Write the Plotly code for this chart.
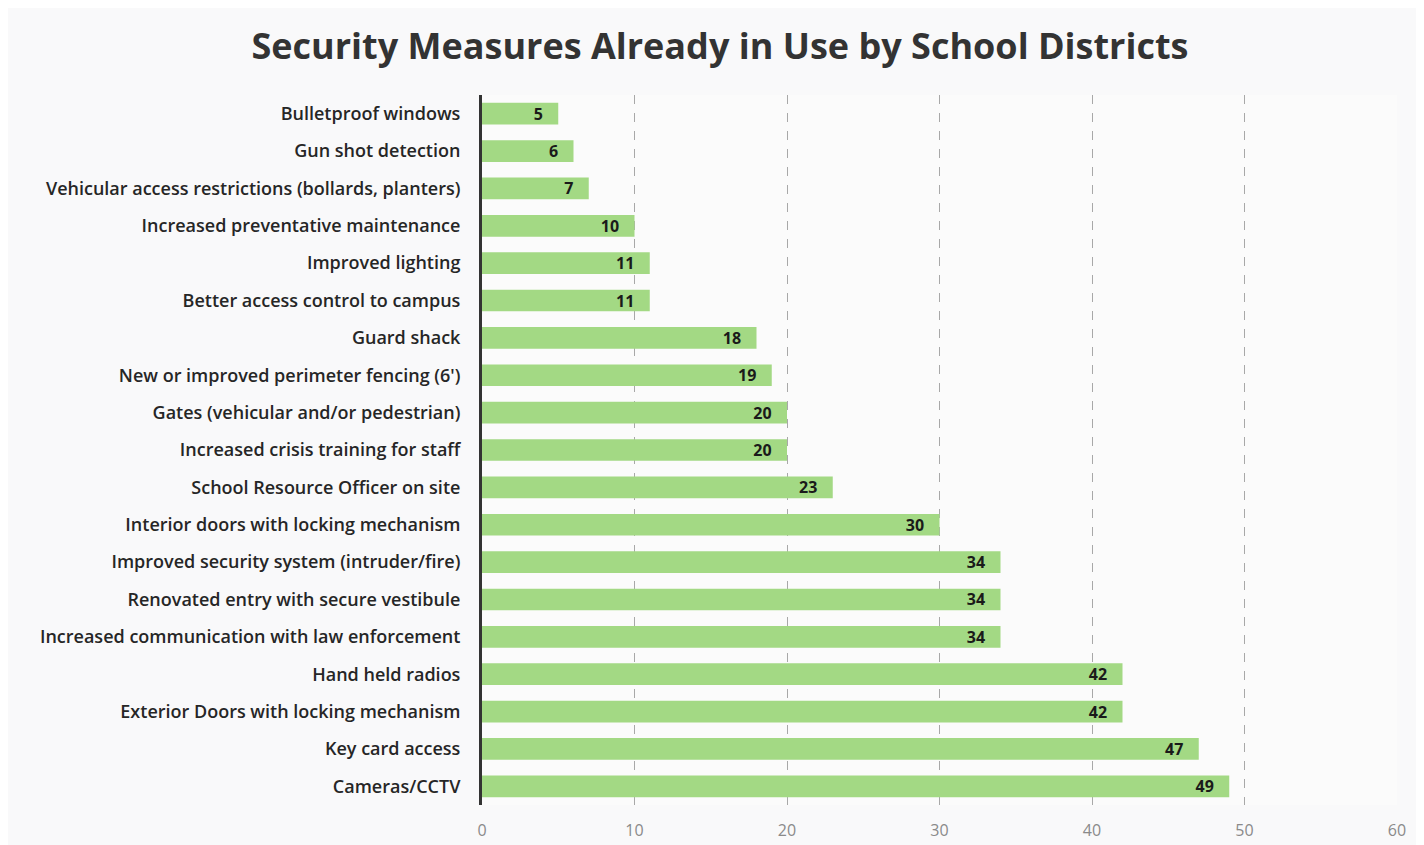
import plotly.graph_objects as go

categories = [
    "Bulletproof windows",
    "Gun shot detection",
    "Vehicular access restrictions (bollards, planters)",
    "Increased preventative maintenance",
    "Improved lighting",
    "Better access control to campus",
    "Guard shack",
    "New or improved perimeter fencing (6')",
    "Gates (vehicular and/or pedestrian)",
    "Increased crisis training for staff",
    "School Resource Officer on site",
    "Interior doors with locking mechanism",
    "Improved security system (intruder/fire)",
    "Renovated entry with secure vestibule",
    "Increased communication with law enforcement",
    "Hand held radios",
    "Exterior Doors with locking mechanism",
    "Key card access",
    "Cameras/CCTV",
]
values = [5, 6, 7, 10, 11, 11, 18, 19, 20, 20, 23, 30, 34, 34, 34, 42, 42, 47, 49]
x_ticks = [0, 10, 20, 30, 40, 50, 60]

fig = go.Figure(
    go.Bar(
        y=categories,
        x=values,
        orientation="h",
        marker=dict(color="#a3d984", line=dict(width=0)),
        text=[str(v) + "\u00a0\u00a0\u00a0" for v in values],
        textposition="inside",
        textangle=0,
        insidetextanchor="end",
        textfont=dict(family="Open Sans", size=16, color="#1a1a1a", weight="bold"),
        cliponaxis=False,
    )
)

fig.update_layout(
    width=1424,
    height=845,
    paper_bgcolor="#f9f9fa",
    plot_bgcolor="#fbfbfb",
    margin=dict(l=474, r=35, t=87, b=48),
    bargap=0.42,
    showlegend=False,
    uniformtext=dict(minsize=16, mode="show"),
    title=dict(
        text="<b>Security Measures Already in Use by School Districts</b>",
        x=0.5,
        xanchor="center",
        y=0.955,
        yanchor="middle",
        font=dict(family="Open Sans", size=36, color="#333333"),
    ),
)

fig.update_xaxes(
    range=[0, 60],
    tickvals=x_ticks,
    showgrid=True,
    gridcolor="#a8a8a8",
    griddash="dash",
    gridwidth=1,
    zeroline=False,
    showline=False,
    ticklabelstandoff=14,
    tickfont=dict(family="Open Sans", size=16, color="#8a8a8a"),
)
fig.update_yaxes(
    categoryorder="array",
    categoryarray=categories,
    autorange="reversed",
    showgrid=False,
    showline=True,
    linecolor="#333333",
    linewidth=3,
    ticks="",
    ticklabelstandoff=15,
    tickfont=dict(family="Open Sans", size=18, color="#262626", weight=600),
)

fig.write_html("out.html")
